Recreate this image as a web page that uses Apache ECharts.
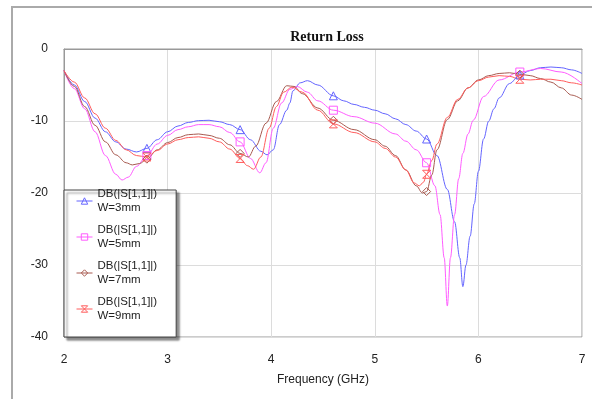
<!DOCTYPE html>
<html>
<head>
<meta charset="utf-8">
<script src="https://cdn.jsdelivr.net/npm/echarts@6/dist/echarts.min.js"></script>
<style>
  html, body { margin: 0; padding: 0; background: #fff; }
  #chart { width: 592px; height: 399px; }
</style>
</head>
<body>
<div id="chart"></div>
<script>
// frequency ticks and marker positions (GHz)
var freqTicks = [2, 3, 4, 5, 6, 7];
var markerFreqs = [2.8, 3.7, 4.6, 5.5, 6.4];

// W=3mm
var freqW3 = [2.0, 2.1, 2.2, 2.3, 2.4, 2.5, 2.6, 2.7, 2.8, 2.9, 3.0, 3.1, 3.2, 3.3, 3.4, 3.5, 3.6, 3.7, 3.8, 3.9, 3.96, 4.02, 4.08, 4.15, 4.18, 4.21, 4.28, 4.35, 4.45, 4.6, 4.7, 4.8, 4.9, 5.0, 5.1, 5.2, 5.3, 5.4, 5.5, 5.6, 5.7, 5.77, 5.82, 5.85, 5.88, 5.92, 5.96, 6.0, 6.05, 6.1, 6.15, 6.2, 6.3, 6.4, 6.5, 6.6, 6.7, 6.8, 6.9, 7.0];
var dbW3 = [-3.0, -5.0, -7.3, -9.6, -11.5, -12.9, -13.9, -14.3, -13.8, -12.6, -11.5, -10.7, -10.2, -9.95, -9.9, -10.1, -10.5, -11.2, -12.6, -14.2, -14.7, -14.0, -10.5, -8.5, -7.5, -5.8, -4.7, -4.4, -5.0, -6.5, -7.2, -7.7, -8.1, -8.5, -9.0, -9.7, -10.5, -11.4, -12.5, -14.8, -19.5, -24, -29, -33, -30, -26, -21.5, -17, -12.5, -10, -8.3, -6.8, -4.8, -3.6, -3.0, -2.6, -2.5, -2.6, -2.9, -3.4];

// W=5mm
var freqW5 = [2.0, 2.1, 2.2, 2.3, 2.4, 2.5, 2.56, 2.62, 2.7, 2.8, 2.9, 3.0, 3.1, 3.2, 3.3, 3.4, 3.5, 3.6, 3.7, 3.8, 3.89, 3.95, 4.02, 4.1, 4.18, 4.25, 4.35, 4.45, 4.6, 4.8, 5.0, 5.2, 5.3, 5.4, 5.5, 5.58, 5.63, 5.67, 5.7, 5.73, 5.77, 5.81, 5.85, 5.9, 5.95, 6.05, 6.2, 6.4, 6.6, 6.8, 7.0];
var dbW5 = [-3.0, -5.5, -8.3, -11.5, -14.8, -17.4, -18.2, -17.8, -16.3, -14.8, -13.2, -12.0, -11.2, -10.8, -10.5, -10.5, -10.8, -11.6, -12.9, -15.2, -17.2, -15.8, -11, -7.5, -5.6, -5.2, -6.0, -7.2, -8.5, -9.4, -10.3, -11.8, -12.8, -14.0, -15.8, -19, -23, -29, -35.7, -29, -23, -18, -14.5, -11.8, -9.9, -6.6, -4.3, -3.2, -2.7, -3.2, -4.8];

// W=7mm
var freqW7 = [2.0, 2.1, 2.2, 2.3, 2.4, 2.5, 2.6, 2.66, 2.73, 2.8, 2.9, 3.0, 3.1, 3.2, 3.3, 3.4, 3.5, 3.6, 3.7, 3.78, 3.85, 3.95, 4.05, 4.15, 4.22, 4.3, 4.45, 4.6, 4.8, 5.0, 5.1, 5.2, 5.3, 5.4, 5.46, 5.5, 5.55, 5.6, 5.7, 5.8, 5.9, 6.0, 6.1, 6.2, 6.3, 6.4, 6.5, 6.6, 6.7, 6.8, 6.9, 7.0];
var dbW7 = [-3.0, -5.2, -8.0, -10.6, -12.9, -14.7, -15.8, -16.1, -15.9, -15.3, -14.0, -13.0, -12.3, -11.9, -11.8, -12.0, -12.4, -13.3, -14.5, -15.0, -13.5, -10.3, -7.3, -5.1, -5.2, -6.2, -8.2, -9.9, -11.2, -12.6, -13.5, -14.8, -16.8, -19.0, -20.0, -19.8, -17.5, -14.0, -9.8, -7.2, -5.4, -4.3, -3.7, -3.4, -3.3, -3.5, -3.7, -4.1, -4.6, -5.4, -6.4, -7.0];

// W=9mm
var freqW9 = [2.0, 2.1, 2.2, 2.3, 2.4, 2.5, 2.6, 2.7, 2.8, 2.9, 3.0, 3.1, 3.2, 3.3, 3.4, 3.5, 3.6, 3.7, 3.77, 3.83, 3.9, 3.98, 4.05, 4.12, 4.2, 4.3, 4.45, 4.6, 4.8, 5.0, 5.1, 5.2, 5.3, 5.38, 5.43, 5.47, 5.5, 5.55, 5.6, 5.7, 5.8, 5.9, 6.0, 6.1, 6.2, 6.3, 6.4, 6.5, 6.6, 6.7, 6.8, 6.9, 7.0];
var dbW9 = [-3.0, -4.6, -6.8, -9.0, -11.0, -12.7, -14.0, -14.8, -15.0, -14.1, -13.2, -12.6, -12.3, -12.2, -12.4, -12.9, -13.9, -15.2, -16.2, -16.7, -15.0, -11.0, -8.0, -6.0, -5.3, -6.0, -8.5, -10.4, -11.6, -12.9, -13.8, -15.0, -16.8, -18.6, -19.0, -18.5, -17.4, -15.5, -13.2, -9.5, -7.0, -5.4, -4.4, -3.9, -3.7, -3.8, -4.2, -4.3, -4.2, -4.2, -4.4, -4.7, -5.0];

var seriesNames = ['W=3mm', 'W=5mm', 'W=7mm', 'W=9mm'];
var seriesColors = ['#6464ff', '#ff5cff', '#a85a50', '#ff5c5c'];
var seriesSymbols = ['triangle', 'rect', 'diamond', 'path://M0,0 L10,0 L0,12 L10,12 Z'];

var chartDom = document.getElementById('chart');
var myChart = echarts.init(chartDom);

function pairs(xs, ys) {
    return xs.map(function (x, i) { return [x, ys[i]]; });
}

var allData = [pairs(freqW3, dbW3), pairs(freqW5, dbW5), pairs(freqW7, dbW7), pairs(freqW9, dbW9)];

var series = seriesNames.map(function (name, i) {
    return {
        name: name,
        type: 'line',
        data: allData[i],
        smooth: 0.35,
        smoothMonotone: 'x',
        symbol: seriesSymbols[i],
        symbolSize: function (v) {
            return markerFreqs.indexOf(v[0]) >= 0 ? 8 : 0;
        },
        showSymbol: true,
        color: seriesColors[i],
        lineStyle: { color: seriesColors[i], width: 1 },
        itemStyle: { color: 'rgba(255,255,255,0)', borderColor: seriesColors[i], borderWidth: 1 },
        emphasis: { disabled: true },
        z: 3
    };
});

var option = {
    animation: false,
    title: {
        text: 'Return Loss',
        left: 322,
        top: 25,
        textAlign: 'center',
        textStyle: { fontFamily: 'Liberation Serif', fontWeight: 'bold', fontSize: 14, color: '#111' }
    },
    graphic: [{
        type: 'rect',
        shape: { x: 12, y: 7, width: 700, height: 500 },
        style: { fill: 'none', stroke: '#aaaaaa', lineWidth: 2 },
        silent: true
    }],
    legend: {
        orient: 'vertical',
        left: 64,
        top: 190,
        data: seriesNames,
        itemWidth: 16,
        itemHeight: 8,
        itemGap: -6,
        padding: [-10, 19, 7, 12],
        backgroundColor: '#fff',
        borderColor: '#444',
        borderWidth: 1,
        shadowColor: 'rgba(0,0,0,0.45)',
        shadowBlur: 2,
        shadowOffsetX: 3,
        shadowOffsetY: 3,
        itemStyle: { color: 'rgba(255,255,255,0)', borderColor: 'inherit', borderWidth: 1 },
        lineStyle: { width: 1 },
        formatter: function (name) { return 'DB(|S[1,1]|)\n' + name; },
        textStyle: { fontFamily: 'Liberation Sans', fontSize: 11.5, color: '#222', lineHeight: 14, padding: [14, 0, 0, 0] }
    },
    grid: {
        left: 64,
        right: 10,
        top: 49,
        bottom: 62,
        show: true,
        borderColor: '#999',
        borderWidth: 1,
        backgroundColor: '#fff'
    },
    xAxis: {
        type: 'value',
        min: freqTicks[0],
        max: freqTicks[freqTicks.length - 1],
        interval: 1,
        name: 'Frequency (GHz)',
        nameLocation: 'middle',
        nameGap: 37,
        nameTextStyle: { fontFamily: 'Liberation Sans', fontSize: 12, color: '#222' },
        axisLine: { lineStyle: { color: '#999' } },
        axisTick: { show: false },
        axisLabel: { fontFamily: 'Liberation Sans', fontSize: 12, color: '#222', margin: 17 },
        splitLine: { lineStyle: { color: '#dcdcdc' } }
    },
    yAxis: {
        type: 'value',
        min: -40,
        max: 0,
        interval: 10,
        axisLine: { show: true, lineStyle: { color: '#999' } },
        axisTick: { show: false },
        axisLabel: { fontFamily: 'Liberation Sans', fontSize: 12, color: '#222', margin: 16 },
        splitLine: { lineStyle: { color: '#dcdcdc' } }
    },
    series: series
};

option && myChart.setOption(option);
</script>
</body>
</html>
